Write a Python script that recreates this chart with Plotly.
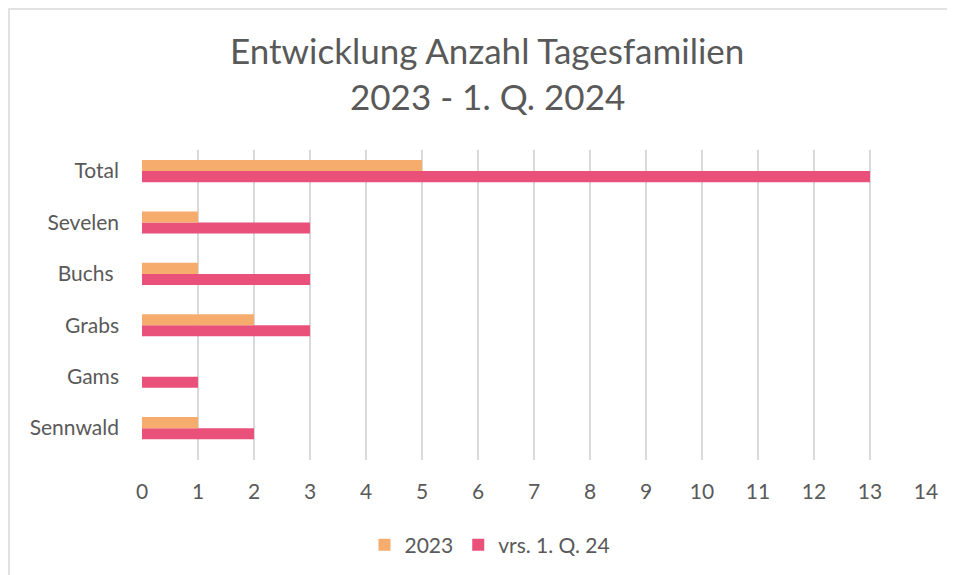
import plotly.graph_objects as go

categories = ["Sennwald", "Gams", "Grabs", "Buchs ", "Sevelen", "Total"]
values_2023 = [1, 0, 2, 1, 1, 5]
values_q1_24 = [2, 1, 3, 3, 3, 13]
x_ticks = list(range(0, 15))

# page body has an 8px margin; draw in page coordinates minus 8
OFF = 8
W, H = 955 - OFF, 575 - OFF
L, T = 142 - OFF, 150 - OFF
R = W - (926 - OFF)
B = H - (460 - OFF)
pw, ph = W - L - R, H - T - B


def px(xp):
    return (xp - OFF - L) / pw


def py(yp):
    return 1 - (yp - OFF - T) / ph


fig = go.Figure()
fig.add_trace(go.Bar(
    y=categories, x=values_q1_24, orientation="h", name="vrs. 1. Q. 24",
    marker=dict(color="#E9507A", line=dict(width=0)),
    legendrank=2,
))
fig.add_trace(go.Bar(
    y=categories, x=values_2023, orientation="h", name="2023",
    marker=dict(color="#F5AC6C", line=dict(width=0)),
    legendrank=1,
))

font = "Lato, sans-serif"
col = "#595959"

fig.update_layout(
    width=W, height=H,
    margin=dict(l=L, r=R, t=T, b=B, autoexpand=False),
    paper_bgcolor="white", plot_bgcolor="white",
    barmode="group", bargap=0.57, bargroupgap=0,
    showlegend=True,
    legend=dict(orientation="h", x=px(490), xanchor="center",
                y=py(545), yanchor="middle",
                font=dict(family=font, size=21, color=col),
                itemwidth=30, traceorder="normal"),
    font=dict(family=font, color=col),
    xaxis=dict(range=[0, 14], tickvals=x_ticks, showgrid=True,
               gridcolor="#D9D9D9", gridwidth=1.5, zeroline=False,
               showline=False, ticks="", ticklabelstandoff=17,
               tickfont=dict(family=font, size=21, color=col),
               fixedrange=True),
    yaxis=dict(categoryorder="array", categoryarray=categories,
               range=[-0.62, 5.41], showgrid=False, zeroline=False,
               showline=False, ticks="", ticklabelstandoff=22,
               tickfont=dict(family=font, size=21, color=col),
               fixedrange=True),
    annotations=[
        dict(text="Entwicklung Anzahl Tagesfamilien", xref="paper", yref="paper",
             x=px(487), y=py(50), xanchor="center", yanchor="middle",
             showarrow=False, font=dict(family=font, size=35, color=col)),
        dict(text="2023 - 1. Q. 2024", xref="paper", yref="paper",
             x=px(487), y=py(96), xanchor="center", yanchor="middle",
             showarrow=False, font=dict(family=font, size=35, color=col)),
    ],
    shapes=[
        dict(type="rect", xref="paper", yref="paper",
             x0=px(9), x1=px(OFF + W + 30), y0=py(OFF + H + 30), y1=py(9),
             line=dict(color="#D9D9D9", width=1.5), fillcolor="rgba(0,0,0,0)",
             layer="below"),
    ],
)

fig.write_html(
    "out.html",
    post_script="document.documentElement.style.overflow='hidden';"
                "document.body.style.overflow='hidden';",
)
